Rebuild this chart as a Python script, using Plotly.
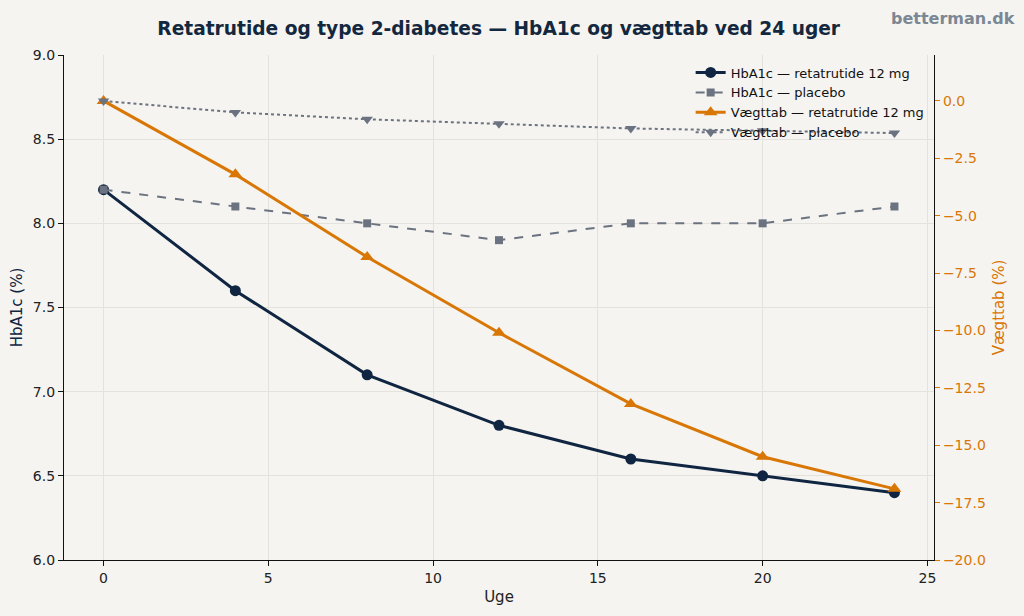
import plotly.graph_objects as go

weeks = [0, 4, 8, 12, 16, 20, 24]
hba1c_reta = [8.2, 7.6, 7.1, 6.8, 6.6, 6.5, 6.4]
hba1c_placebo = [8.2, 8.1, 8.0, 7.9, 8.0, 8.0, 8.1]
weight_reta = [0.0, -3.2, -6.8, -10.1, -13.2, -15.5, -16.9]
weight_placebo = [0.0, -0.5, -0.8, -1.0, -1.2, -1.3, -1.4]

NAVY = "#0f2541"
ORANGE = "#d97706"
GRAY = "#6b7280"
BG = "#f5f4f0"
FONT = "DejaVu Sans"

fig = go.Figure()
fig.add_trace(go.Scatter(x=weeks, y=hba1c_reta, mode="lines+markers",
                         name="HbA1c — retatrutide 12 mg",
                         line=dict(color=NAVY, width=3),
                         marker=dict(symbol="circle", size=11, color=NAVY)))
fig.add_trace(go.Scatter(x=weeks, y=hba1c_placebo, mode="lines+markers",
                         name="HbA1c — placebo",
                         line=dict(color=GRAY, width=2, dash="dash"),
                         marker=dict(symbol="square", size=8, color=GRAY)))
fig.add_trace(go.Scatter(x=weeks, y=weight_reta, mode="lines+markers",
                         name="Vægttab — retatrutide 12 mg", yaxis="y2",
                         line=dict(color=ORANGE, width=3),
                         marker=dict(symbol="triangle-up", size=12, color=ORANGE)))
fig.add_trace(go.Scatter(x=weeks, y=weight_placebo, mode="lines+markers",
                         name="Vægttab — placebo", yaxis="y2",
                         line=dict(color=GRAY, width=2, dash="dot"),
                         marker=dict(symbol="triangle-down", size=10, color=GRAY)))

fig.update_layout(
    width=1024, height=616,
    paper_bgcolor=BG, plot_bgcolor=BG,
    margin=dict(l=64, r=90, t=55, b=56),
    font=dict(family=FONT, size=14, color="#222222"),
    title=dict(text="<b>Retatrutide og type 2-diabetes — HbA1c og vægttab ved 24 uger</b>",
               x=0.487, xanchor="center", y=0.953, yanchor="middle",
               font=dict(family=FONT, size=18.6, color="#13283f")),
    xaxis=dict(range=[-1.2, 25.2], tickvals=[0, 5, 10, 15, 20, 25],
               title=dict(text="Uge", font=dict(size=15), standoff=6),
               showgrid=True, gridcolor="#e4e2dd", zeroline=False,
               showline=True, linecolor="#111111", linewidth=1.2,
               ticks="outside", ticklen=5, tickcolor="#111111"),
    yaxis=dict(range=[6.0, 9.0], tickvals=[6.0, 6.5, 7.0, 7.5, 8.0, 8.5, 9.0],
               tickformat=".1f",
               title=dict(text="HbA1c (%)", font=dict(size=15, color=NAVY), standoff=6),
               showgrid=True, gridcolor="#e4e2dd", zeroline=False,
               showline=True, linecolor="#111111", linewidth=1.2,
               ticks="outside", ticklen=5, tickcolor="#111111"),
    yaxis2=dict(range=[-20, 2], overlaying="y", side="right",
                tickvals=[0, -2.5, -5, -7.5, -10, -12.5, -15, -17.5, -20],
                tickformat=".1f", tickfont=dict(color=ORANGE),
                title=dict(text="Vægttab (%)", font=dict(size=15, color=ORANGE), standoff=8),
                showgrid=False, zeroline=False,
                showline=True, linecolor="#111111", linewidth=1.2,
                ticks="outside", ticklen=5, tickcolor=ORANGE),
    legend=dict(x=0.995, xanchor="right", y=0.995, yanchor="top",
                bgcolor="rgba(0,0,0,0)", font=dict(size=13, color="#111111"),
                tracegroupgap=0, itemwidth=30),
    showlegend=True,
)
fig.add_annotation(text="<b>betterman.dk</b>", xref="paper", yref="paper",
                   x=1.0, y=1.0, xanchor="right", yanchor="bottom",
                   xshift=83, yshift=25, showarrow=False,
                   font=dict(family=FONT, size=16, color="#7b8794"))

fig.write_html("out.html")
